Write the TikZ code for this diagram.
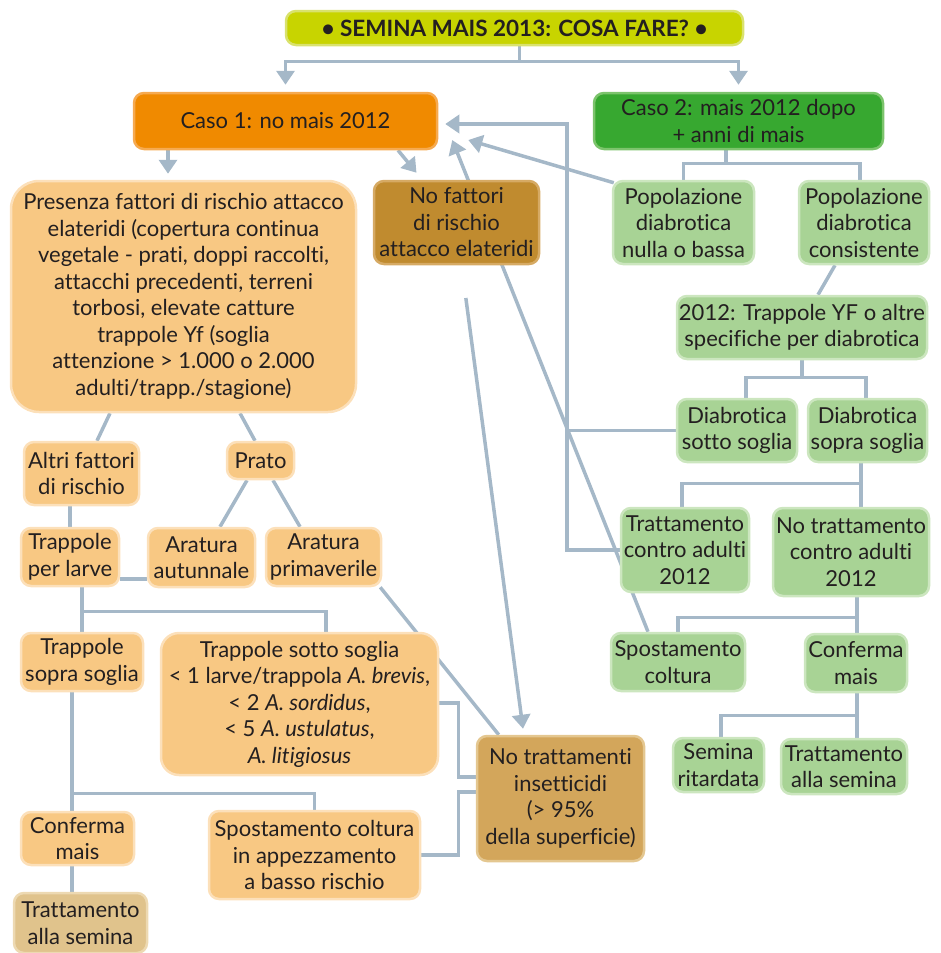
\documentclass[tikz,border=0pt]{standalone}
\usepackage{fontspec}
\setmainfont{Lato}[Ligatures=NoCommon]
\usetikzlibrary{arrows.meta,positioning,backgrounds}
\definecolor{inktext}{HTML}{231F20}
\definecolor{linegray}{HTML}{A5B8C8}
\definecolor{titlefill}{HTML}{C8D400}
\definecolor{titleline}{HTML}{D9E26E}
\definecolor{caseonefill}{HTML}{F08A00}
\definecolor{caseoneline}{HTML}{F6AA50}
\definecolor{casetwofill}{HTML}{37A830}
\definecolor{casetwoline}{HTML}{7CC46C}
\definecolor{elatfill}{HTML}{F8C883}
\definecolor{elatline}{HTML}{FCE0BA}
\definecolor{diabfill}{HTML}{A8D395}
\definecolor{diabline}{HTML}{CCE6BF}
\definecolor{nofill}{HTML}{C08B2F}
\definecolor{noline}{HTML}{D6AA64}
\definecolor{notrfill}{HTML}{D3A65B}
\definecolor{notrline}{HTML}{E4C790}
\definecolor{tanfill}{HTML}{E0C38C}
\definecolor{tanline}{HTML}{EDD9B2}

\begin{document}
\begin{tikzpicture}[
  x=1pt, y=-1pt,
  wh/.style 2 args = {minimum width=#1pt, minimum height=#2pt},
  box/.style = {
    rectangle, rounded corners=10pt, line width=2.5pt,
    align=center, inner sep=1pt, text=inktext,
    font=\fontsize{22}{26.5}\selectfont
  },
  titlebox/.style = {box, draw=titleline, fill=titlefill,
    font=\fontsize{22.5}{26}\selectfont\bfseries},
  caseone/.style  = {box, draw=caseoneline, fill=caseonefill},
  casetwo/.style  = {box, draw=casetwoline, fill=casetwofill},
  elatbox/.style  = {box, draw=elatline, fill=elatfill},
  diabbox/.style  = {box, draw=diabline, fill=diabfill},
  nobox/.style    = {box, draw=noline, fill=nofill},
  notrbox/.style  = {box, draw=notrline, fill=notrfill},
  tanbox/.style   = {box, draw=tanline, fill=tanfill},
  conn/.style = {draw=linegray, line width=3.5pt},
  arr/.style  = {conn, -{Triangle[width=18pt,length=14pt]}},
]
\useasboundingbox (0,0) rectangle (941,953);

%% ---- Title and the two cases ----
\node[titlebox, wh={457}{34}] (title) at (514.5,28) {• SEMINA MAIS 2013: COSA FARE? •};
\node[caseone, wh={303}{56}] (caso1) at (285.5,121) {Caso 1: no mais 2012};
\node[casetwo, wh={289}{56}] (caso2) at (738.5,121) {Caso 2: mais 2012 dopo\\+ anni di mais};

%% ---- Caso 1: elateridi ----
\node[elatbox, rounded corners=28pt, wh={345}{231}] (presenza) at (183.5,296.5) {%
  Presenza fattori di rischio attacco\\
  elateridi (copertura continua\\
  vegetale - prati, doppi raccolti,\\
  attacchi precedenti, terreni\\
  torbosi, elevate catture\\
  trappole Yf (soglia\\
  attenzione > 1.000 o 2.000\\
  adulti/trapp./stagione)};
\node[nobox, wh={165}{83}] (nofatt) at (456.5,222.5) {No fattori\\di rischio\\attacco elateridi};

\node[elatbox, wh={115}{63}] (altri) at (81.5,473.5) {Altri fattori\\di rischio};
\node[elatbox, wh={67}{37}] (prato) at (260.5,460.5) {Prato};
\node[elatbox, wh={98}{58}] (traplarve) at (70,557) {Trappole\\per larve};
\node[elatbox, wh={107}{59}] (arataut) at (201.5,557.5) {Aratura\\autunnale};
\node[elatbox, wh={115}{58}] (aratprim) at (323.5,557) {Aratura\\primaverile};
\node[elatbox, wh={122}{58}] (trapsopra) at (82,662) {Trappole\\sopra soglia};
\node[elatbox, rounded corners=18pt, wh={277}{142}] (trapsotto) at (299.5,704) {%
  Trappole sotto soglia\\
  < 1 larve/trappola \textit{A. brevis},\\
  < 2 \textit{A. sordidus},\\
  < 5 \textit{A. ustulatus},\\
  \textit{A. litigiosus}};
\node[notrbox, wh={167}{125}] (notratt) at (560.5,798.5) {No trattamenti\\insetticidi\\(> 95\%\\della superficie)};
\node[elatbox, wh={113}{53}] (confo) at (77.5,838.5) {Conferma\\mais};
\node[elatbox, wh={211}{88}] (spostapp) at (314.5,855) {Spostamento coltura\\in appezzamento\\a basso rischio};
\node[tanbox, wh={133}{60}] (trattsemo) at (80.5,923) {Trattamento\\alla semina};

%% ---- Caso 2: diabrotica ----
\node[diabbox, wh={141}{83}] (popnulla) at (683.5,222.5) {Popolazione\\diabrotica\\nulla o bassa};
\node[diabbox, wh={130}{83}] (popcons) at (864,222.5) {Popolazione\\diabrotica\\consistente};
\node[diabbox, wh={250}{63}] (trap12) at (802,327.5) {2012: Trappole YF o altre\\specifiche per diabrotica};
\node[diabbox, wh={120}{63}] (sotto) at (737,430.5) {Diabrotica\\sotto soglia};
\node[diabbox, wh={119}{63}] (sopra) at (867.5,430.5) {Diabrotica\\sopra soglia};
\node[diabbox, wh={128}{84}] (trattad) at (685,550) {Trattamento\\contro adulti\\2012};
\node[diabbox, wh={156}{88}] (notrattad) at (851,552) {No trattamento\\contro adulti\\2012};
\node[diabbox, wh={134}{58}] (spostc) at (678,662) {Spostamento\\coltura};
\node[diabbox, wh={102}{58}] (confg) at (856,663) {Conferma\\mais};
\node[diabbox, wh={91}{54}] (semrit) at (718.5,765) {Semina\\ritardata};
\node[diabbox, wh={126}{55}] (trattsemg) at (844,766.5) {Trattamento\\alla semina};

\begin{scope}[on background layer]
%% ---- Arrows from the title ----
\draw[arr] ([xshift=5pt]title.south) -- ++(0,15) coordinate (tsplit) -| ([yshift=7pt]caso1.north);
\draw[arr] (tsplit) -| ([yshift=7pt]caso2.north);

%% ---- Caso 1 branch ----
\draw[arr] ([xshift=-117.5pt]caso1.south) -- ([xshift=-15.5pt,yshift=6pt]presenza.north);
\draw[arr] ([xshift=112.5pt]caso1.south) -- ([xshift=-40pt,yshift=7pt]nofatt.north);
\draw[conn] ([xshift=-73.5pt]presenza.south) -- ([xshift=15.5pt]altri.north);
\draw[conn] ([xshift=56.5pt]presenza.south) -- ([xshift=-5.5pt]prato.north);
\draw[conn] ([xshift=-13.5pt]prato.south) -- ([xshift=18.5pt]arataut.north);
\draw[conn] ([xshift=12.5pt]prato.south) -- ([xshift=-23.5pt]aratprim.north);
\draw[conn] ([xshift=-11.5pt]altri.south) -- (traplarve.north);
\draw[conn] ([yshift=-22pt]traplarve.east) -- ([yshift=-21.5pt]arataut.west);
\draw[conn] ([xshift=12pt]traplarve.south) -- (trapsopra.north);
\draw[conn] ([xshift=12pt]traplarve.south) ++(0,24) -| ([xshift=26.5pt]trapsotto.north);
\draw[conn] ([xshift=-10pt]trapsopra.south) -- ([xshift=-5.5pt]confo.north);
\draw[conn] ([xshift=-10pt]trapsopra.south) ++(0,101) -| (spostapp.north);
\draw[conn] ([xshift=-5.5pt]confo.south) -- ([xshift=-8.5pt]trattsemo.north);
\draw[conn] ([xshift=-2pt]aratprim.south east) -- ([xshift=23pt]notratt.north west);
\draw[conn] ([yshift=1pt]trapsotto.east) -- ++(19,0) |- ([yshift=21.5pt]notratt.west);
\draw[conn] (spostapp.east) -- ++(37,0) |- ([yshift=6.5pt]notratt.west);
\draw[arr, shorten <=33pt] ([xshift=5pt]nofatt.south) -- ([xshift=-37.5pt,yshift=6pt]notratt.north);

%% ---- Caso 2 branch ----
\draw[conn] ([xshift=-12.5pt]caso2.south) -- ++(0,13) coordinate (c2split) -| (popnulla.north);
\draw[conn] (c2split) -| ([xshift=-4pt]popcons.north);
\draw[conn] ([xshift=-29pt]popcons.south) -- ([xshift=16pt]trap12.north);
\draw[conn] (trap12.south) -- ++(0,17) coordinate (t12split) -| ([xshift=9pt]sotto.north);
\draw[conn] (t12split) -| ([xshift=-1.5pt]sopra.north);
\draw[conn] ([xshift=-6.5pt]sopra.south) -- ++(0,20) coordinate (sosplit) -| ([xshift=-3pt]trattad.north);
\draw[conn] (sosplit) -- ([xshift=10pt]notrattad.north);
\draw[conn] ([xshift=6pt]notrattad.south) -- ++(0,20) coordinate (ntsplit) -| (spostc.north);
\draw[conn] (ntsplit) -- ([xshift=1pt]confg.north);
\draw[conn] ([xshift=1pt]confg.south) -- ++(0,22) coordinate (cfsplit) -| ([xshift=2.5pt]semrit.north);
\draw[conn] (cfsplit) -- ([xshift=13pt]trattsemg.north);

%% ---- Back to Caso 1 ----
\draw[arr] ([xshift=2pt,yshift=-3pt]popnulla.north west) -- ([xshift=30pt,yshift=-19pt]caso1.east);
\draw[arr] (trattad.west) -- ++(-53,0) |- ([xshift=7pt,yshift=-3pt]caso1.east);
\draw[conn] (sotto.west) -- ++(-109,0);
\draw[arr] ([xshift=-30pt]spostc.north) -- ([xshift=14pt,yshift=-19pt]caso1.east);
\end{scope}
\end{tikzpicture}
\end{document}
